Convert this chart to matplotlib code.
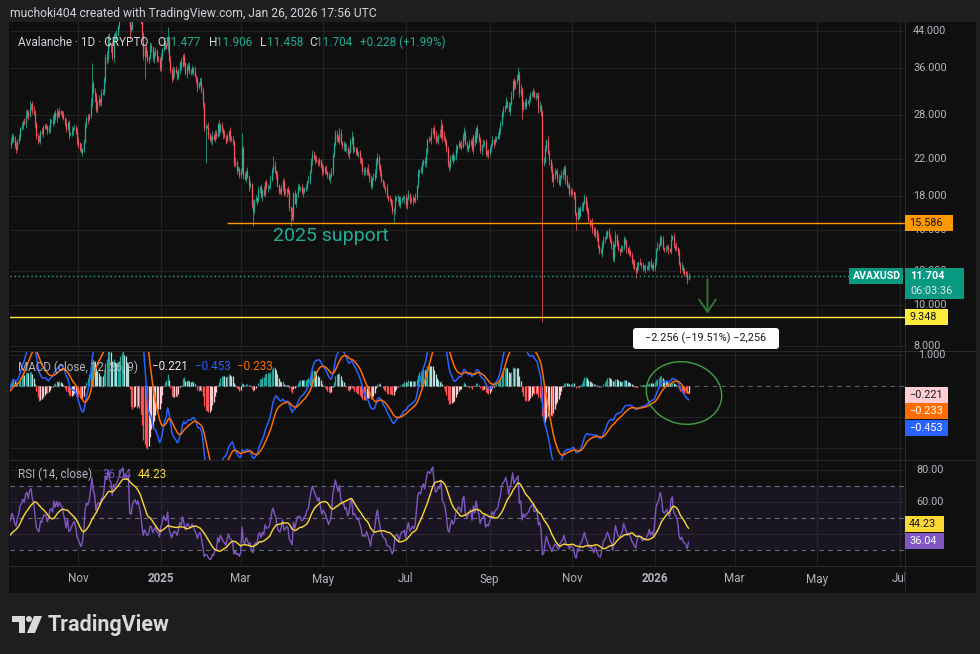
import numpy as np
import pandas as pd
import matplotlib
matplotlib.use("Agg")
import matplotlib.pyplot as plt
import matplotlib.dates as mdates
from matplotlib.patches import Rectangle, Ellipse, FancyBboxPatch, Polygon, Circle
from matplotlib.transforms import Bbox, IdentityTransform

plt.rcParams['font.family'] = ['Roboto', 'DejaVu Sans']

# daily closes AVAXUSD (Aug/early Sep 2024 only warms up the indicators)
closes = {
    "2024-08": [25.5, 23.5, 22.0, 21.0, 19.0, 20.5, 19.8, 22.0, 21.5, 21.5, 20.5, 21.0, 21.3, 20.6, 20.0, 20.5,
                21.0, 21.0, 21.5, 22.5, 24.0, 25.0, 27.5, 28.5, 27.5, 26.0, 24.0, 24.5, 24.0, 23.5, 23.5],
    "2024-09": [22.5, 22.8, 22.0, 22.5, 22.0, 21.0, 21.5, 22.0, 23.5, 24.0, 23.7, 24.2, 25.0, 24.5, 23.6,
                23.3, 24.3, 24.8, 26.0, 26.3, 27.0, 26.7, 28.0, 28.4, 27.8, 29.2, 29.6, 28.6, 28.2, 26.7],
    "2024-10": [25.0, 24.5, 24.3, 25.6, 25.4, 26.1, 26.4, 26.3, 25.6, 25.9, 27.0, 27.1, 26.8, 28.2, 27.6, 28.4,
                27.9, 28.5, 28.2, 28.1, 27.4, 26.8, 25.9, 26.8, 25.2, 25.3, 25.7, 26.0, 26.2, 25.6, 24.4],
    "2024-11": [23.9, 23.4, 22.9, 23.2, 24.2, 26.5, 27.5, 27.3, 28.0, 29.6, 33.0, 31.6, 31.0, 28.7, 30.0,
                30.4, 30.0, 31.4, 31.6, 33.5, 38.3, 37.8, 42.5, 41.0, 40.6, 38.2, 42.8, 42.2, 43.6, 45.2],
    "2024-12": [47.0, 49.8, 51.5, 53.5, 51.5, 54.0, 53.0, 54.5, 45.0, 44.5, 48.5, 50.3, 50.8, 49.5, 51.0, 49.5,
                47.2, 43.0, 38.5, 40.3, 38.8, 37.6, 38.2, 40.5, 40.2, 38.0, 38.8, 39.5, 37.8, 37.6, 36.0],
    "2025-01": [38.5, 39.8, 41.5, 40.5, 40.2, 42.5, 37.6, 35.7, 34.0, 35.2, 35.6, 35.3, 34.3, 35.5, 37.2, 36.5,
                38.5, 37.0, 35.0, 36.0, 36.4, 35.5, 35.2, 36.0, 35.5, 34.5, 33.8, 32.5, 33.2, 33.5, 32.0],
    "2025-02": [29.8, 26.0, 26.3, 26.2, 25.2, 24.5, 24.4, 25.0, 24.6, 25.3, 25.0, 26.6, 25.6, 26.5,
                25.9, 25.2, 24.9, 24.3, 25.0, 25.6, 24.8, 24.5, 24.2, 21.4, 21.7, 20.8, 20.9, 20.2],
    "2025-03": [20.6, 23.4, 20.2, 19.8, 20.6, 20.0, 19.0, 19.2, 17.2, 16.6, 17.6, 17.8, 17.6, 18.6, 18.9, 18.0,
                18.6, 18.2, 19.4, 18.9, 18.9, 19.0, 19.7, 20.8, 21.3, 20.6, 20.3, 19.1, 18.5, 18.4, 18.8],
    "2025-04": [19.6, 18.3, 18.4, 18.7, 18.4, 16.9, 16.6, 16.1, 18.3, 17.4, 18.2, 18.9, 18.8, 18.9, 18.4,
                18.5, 18.8, 18.9, 19.5, 19.6, 20.6, 21.8, 22.6, 22.3, 22.0, 21.8, 21.5, 21.9, 21.2, 20.6],
    "2025-05": [21.0, 20.8, 20.5, 20.2, 19.8, 20.1, 20.5, 22.6, 23.8, 25.2, 24.7, 24.3, 25.3, 24.1, 23.6, 23.9,
                23.2, 23.4, 22.6, 22.9, 24.3, 24.8, 23.1, 23.3, 23.0, 22.6, 22.8, 22.1, 21.6, 20.6, 20.7],
    "2025-06": [20.5, 20.9, 20.4, 19.9, 19.0, 19.8, 19.9, 20.4, 21.5, 22.2, 21.3, 20.4, 19.6, 19.2, 18.9,
                18.8, 18.0, 17.8, 17.7, 17.2, 16.6, 16.8, 17.8, 17.9, 17.9, 17.2, 17.6, 17.8, 17.8, 17.9],
    "2025-07": [17.2, 17.8, 18.2, 17.5, 17.6, 17.8, 17.6, 17.9, 19.0, 20.5, 20.7, 20.6, 21.4, 21.9, 21.6, 22.8,
                24.5, 24.6, 24.5, 25.4, 26.0, 25.0, 24.3, 24.5, 25.1, 25.0, 26.4, 24.8, 24.5, 24.2, 23.2],
    "2025-08": [21.6, 21.2, 22.0, 22.5, 22.0, 22.3, 23.3, 23.6, 24.0, 23.8, 23.5, 25.0, 25.5, 23.9, 23.4, 23.6,
                24.0, 24.3, 23.2, 25.0, 24.2, 26.0, 25.1, 24.4, 23.1, 23.7, 23.9, 24.2, 22.6, 22.9, 22.7],
    "2025-09": [23.2, 23.8, 24.4, 24.0, 24.5, 24.7, 24.9, 25.8, 26.6, 28.3, 28.8, 29.2, 30.0, 29.5, 28.6,
                29.7, 31.0, 33.6, 32.5, 33.5, 34.0, 34.8, 31.5, 32.0, 28.8, 30.0, 29.4, 29.9, 30.1, 30.5],
    "2025-10": [31.2, 31.5, 31.8, 30.8, 30.9, 31.2, 29.0, 29.4, 28.2, 21.5, 21.7, 23.4, 24.4, 22.8, 21.9, 20.9,
                19.6, 20.2, 20.6, 20.6, 19.8, 19.3, 20.0, 20.3, 20.5, 21.0, 19.7, 19.1, 19.1, 18.2, 18.5],
    "2025-11": [18.4, 18.0, 16.4, 15.9, 16.7, 16.2, 16.9, 17.0, 17.4, 17.9, 17.1, 16.6, 15.8, 15.5, 15.6,
                15.1, 14.6, 15.0, 14.4, 13.7, 13.4, 13.3, 13.8, 14.3, 14.4, 14.6, 14.9, 14.6, 14.1, 13.9],
    "2025-12": [12.9, 13.8, 14.6, 14.0, 13.5, 13.4, 13.5, 13.7, 14.3, 14.0, 13.6, 13.3, 13.4, 13.1, 12.7, 12.5,
                12.2, 12.0, 12.4, 12.6, 12.5, 12.4, 12.2, 12.3, 12.2, 12.3, 12.4, 12.6, 12.3, 12.4, 12.2],
    "2026-01": [12.7, 13.5, 13.7, 13.9, 14.4, 14.2, 13.6, 13.5, 13.6, 13.7, 13.5, 13.4, 14.3, 14.5, 13.8,
                13.7, 13.6, 13.3, 12.5, 12.2, 12.3, 12.0, 11.9, 11.8, 11.477, 11.704],
}

# wick length beyond the body, one digit per day, 1 unit = 0.8 %
upper_wick = {
    "2024-08": "2312132213 1213423311 2132421312 3",
    "2024-09": "2131221312 1321231213 1232141232",
    "2024-10": "1231321213 2141231312 2131213121 2",
    "2024-11": "2131221314 6232131323 2423132321",
    "2024-12": "2321312312 3213213121 2313212312 2",
    "2025-01": "2131221314 2312131213 2312131212 3",
    "2025-02": "2121312312 2131213121 31213121",
    "2025-03": "2812131213 1213121312 2131631212 2",
    "2025-04": "2131221312 1321231213 1232131212",
    "2025-05": "2131213123 3213121312 2412131213 2",
    "2025-06": "2131213341 2131213121 3121213121",
    "2025-07": "2131221312 1321231213 1232141242 2",
    "2025-08": "2131213121 3231213121 3121213121 2",
    "2025-09": "2131213121 2131213121 3124212312",
    "2025-10": "2121312312 3213213121 2313212312 2",
    "2025-11": "2131221312 1321231213 1232131212",
    "2025-12": "2131213121 2131213121 3121213121 2",
    "2026-01": "2131213121 2131213121 312121",
}
lower_wick = {
    "2024-08": "3231412312 2213132212 2131321232 2",
    "2024-09": "2213121231 3212131221 2132312213",
    "2024-10": "2312131221 3121231213 1221312312 3",
    "2024-11": "3213212312 2141232312 1322423212",
    "2024-12": "2131213282 1213214432 2121323121 2",
    "2025-01": "2312131221 3121231213 1221312312 2",
    "2025-02": "3221312312 2131231213 31212312",
    "2025-03": "2131213129 2131213121 3121213121 2",
    "2025-04": "2213129231 3212131221 2132312213",
    "2025-05": "2312131221 3121231213 1221312312 3",
    "2025-06": "2213121231 3212131221 2932312213",
    "2025-07": "2312131221 3121231213 1221312312 2",
    "2025-08": "3421312312 2131231213 3121231212 3",
    "2025-09": "2213121231 3212131221 2132612213",
    "2025-10": "2131213221 2121321432 2121323121 2",
    "2025-11": "2214121231 3212131221 2132312213",
    "2025-12": "2312131221 3121231213 1221312312 2",
    "2026-01": "2312131221 3121231213 122131",
}
high_fix = {"2024-11-11": 37.0, "2025-01-06": 45.0, "2025-03-02": 25.3, "2025-05-13": 26.0,
            "2025-06-10": 22.7, "2025-07-27": 27.3, "2025-09-22": 36.2, "2026-01-26": 11.906}
low_fix = {"2024-12-20": 34.0, "2025-02-03": 21.5, "2025-03-10": 15.3, "2025-04-07": 15.3,
           "2025-06-22": 15.6, "2025-08-02": 20.6, "2025-09-25": 27.3, "2025-10-10": 9.1,
           "2025-11-04": 15.0, "2025-12-18": 11.6, "2026-01-26": 11.458}

price_ticks = [8, 10, 12, 15, 18, 22, 28, 36, 44]
time_ticks = ["2024-11-01", "2025-01-01", "2025-03-01", "2025-05-01", "2025-07-01", "2025-09-01",
              "2025-11-01", "2026-01-01", "2026-03-01", "2026-05-01", "2026-07-01"]
time_labels = ["Nov", "2025", "Mar", "May", "Jul", "Sep", "Nov", "2026", "Mar", "May", "Jul"]

support_level = 15.586
target_level = 9.348
last_price = 11.704
change_txt = "+0.228 (+1.99%)"
macd_last = (-0.221, -0.453, -0.233)   # hist, macd, signal
rsi_last = (36.04, 44.23)              # rsi, rsi ma

# ---------------------------------------------------------------- data frame
rows = []
for month, vals in closes.items():
    u = upper_wick[month].replace(" ", "")
    l = lower_wick[month].replace(" ", "")
    assert len(u) == len(vals) == len(l), month
    for i, c in enumerate(vals):
        rows.append((pd.Timestamp(month + "-01") + pd.Timedelta(days=i), c, int(u[i]), int(l[i])))
df = pd.DataFrame(rows, columns=["date", "close", "uw", "lw"]).set_index("date")
df["open"] = df["close"].shift(1).fillna(df["close"].iloc[0])
body_top = df[["open", "close"]].max(axis=1)
body_bot = df[["open", "close"]].min(axis=1)
df["high"] = body_top * (1 + 0.008 * df["uw"])
df["low"] = body_bot * (1 - 0.008 * df["lw"])
for d, v in high_fix.items():
    df.loc[pd.Timestamp(d), "high"] = v
for d, v in low_fix.items():
    df.loc[pd.Timestamp(d), "low"] = v

# indicators
ema12 = df["close"].ewm(span=12, adjust=False).mean()
ema26 = df["close"].ewm(span=26, adjust=False).mean()
macd = ema12 - ema26
signal = macd.ewm(span=9, adjust=False).mean()
hist = macd - signal
delta = df["close"].diff()
gain = delta.clip(lower=0).ewm(alpha=1/14, adjust=False).mean()
loss = (-delta.clip(upper=0)).ewm(alpha=1/14, adjust=False).mean()
rsi = 100 - 100 / (1 + gain / loss)
rsi_ma = rsi.rolling(14).mean()

# ---------------------------------------------------------------- figure
W, H = 980, 654
fig = plt.figure(figsize=(W/100, H/100), dpi=100)
fig.patch.set_facecolor('#1e1e1e')
BG = '#0f0f0f'
GRID = '#222222'
SEP = '#2b2b2b'
TXT = '#b2b5be'

def px_axes(x0, y0, x1, y1):
    return fig.add_axes([x0/W, 1-y1/H, (x1-x0)/W, (y1-y0)/H])

def px_rect(x0, y0, x1, y1, color, z=5):
    r = Rectangle((x0, H-y1), x1-x0, y1-y0, transform=IdentityTransform(), fc=color, ec='none', zorder=z)
    fig.patches.append(r)

def px_text(x, y, s, **kw):
    kw.setdefault('zorder', 6)
    return fig.text(x/W, 1-y/H, s, **kw)

def py(ax, val):
    return H - ax.transData.transform((0, val))[1]

px_rect(9, 22, 976, 593, BG, z=-2)

base = mdates.date2num(pd.Timestamp("2025-01-01"))
xlim = (base - 111.5, base + 550)
x = mdates.date2num(df.index)

ax = px_axes(10, 22, 905, 351)
am = px_axes(10, 351, 905, 460)
ar = px_axes(10, 460, 905, 566)
for a in (ax, am, ar):
    a.set_facecolor(BG)
    a.set_xlim(*xlim)
    for s in a.spines.values():
        s.set_visible(False)
    a.set_xticks([])
    a.set_yticks([])
    for t in time_ticks:
        a.axvline(mdates.date2num(pd.Timestamp(t)), color=GRID, lw=0.8, zorder=0)

# price pane
ax.set_yscale('log')
ax.set_ylim(7.795, 46.2)
ax.minorticks_off()
ax.set_yticks([])
for p in price_ticks:
    ax.axhline(p, color=GRID, lw=0.8, zorder=0)
up = (df["close"] >= df["open"]).values
col = np.where(up, '#22ab94', '#f7525f')
ax.vlines(x, df["low"], df["high"], colors=col, lw=0.55, zorder=2)
ax.vlines(x, df["open"], df["close"], colors=col, lw=0.9, zorder=2)

ax.axhline(target_level, color='#ffeb3b', lw=1.0, zorder=3)
ax.hlines(support_level, mdates.date2num(pd.Timestamp("2025-02-19")), xlim[1], color='#ff9800', lw=1.0, zorder=3)
ax.axhline(last_price, color='#22ab94', lw=1.0, ls=(0, (1, 2)), zorder=3)
ax.text(mdates.date2num(pd.Timestamp("2025-03-25")), 14.5, "2025 support", color='#22ab94',
        fontsize=14, ha='left', va='center', zorder=4)
arr_x = mdates.date2num(pd.Timestamp("2026-02-09"))
ax.annotate('', xy=(arr_x, 9.40), xytext=(arr_x, 11.66),
            arrowprops=dict(arrowstyle='->,head_length=0.9,head_width=0.6', color='#2e7d32', lw=1.3),
            zorder=4)

# MACD pane
am.set_ylim(-2.387, 1.129)
for v in (1, -1, -2):
    am.axhline(v, color=GRID, lw=0.8, zorder=0)
am.axhline(0, color='#5d606b', lw=0.8, ls=(0, (4, 4)), zorder=1)
h = hist.values
prev = np.r_[h[0], h[:-1]]
hcol = np.where(h >= 0, np.where(h >= prev, '#26a69a', '#b2dfdb'),
                np.where(h < prev, '#ff5252', '#ffcdd2'))
am.vlines(x, 0, h, colors=hcol, lw=0.9, zorder=2)
am.plot(x, macd.values, color='#2962ff', lw=1.1, zorder=3)
am.plot(x, signal.values, color='#ff6d00', lw=1.1, zorder=3)

# RSI pane
ar.set_ylim(20, 86.25)
for v in (80, 60, 40):
    ar.axhline(v, color=GRID, lw=0.8, zorder=0)
ar.axhspan(30, 70, color='#7e57c2', alpha=0.1, lw=0, zorder=0)
for v in (70, 50, 30):
    ar.axhline(v, color='#6a6d78', lw=0.8, ls=(0, (4, 4)), zorder=1)
ar.plot(x, rsi.values, color='#7e57c2', lw=1.0, zorder=3)
ar.plot(x, rsi_ma.values, color='#fdd835', lw=1.0, zorder=3)

# separators
for yy in (351, 460, 566):
    px_rect(10, yy - 0.5, 976, yy + 1, SEP, z=4)
px_rect(904.5, 22, 905.5, 593, SEP, z=4)

# ---------------------------------------------------------------- texts
px_text(10, 14, "muchoki404 created with TradingView.com, Jan 26, 2026 17:56 UTC",
        color='#d1d4dc', fontsize=8.7, va='center')
leg_y = 42
px_text(18, leg_y, "Avalanche · 1D · CRYPTO", color='#d1d4dc', fontsize=8.5, va='center')
o, hh, ll, cc = [f"{df[k].iloc[-1]:.3f}" for k in ("open", "high", "low", "close")]
segs = [(157, "O", '#d1d4dc'), (164, o, '#22ab94'), (209, "H", '#d1d4dc'), (216, hh, '#22ab94'),
        (260, "L", '#d1d4dc'), (267, ll, '#22ab94'), (309, "C", '#d1d4dc'), (316, cc, '#22ab94'),
        (360, change_txt, '#22ab94')]
for xx, s, c in segs:
    px_text(xx, leg_y, s, color=c, fontsize=8.5, va='center')

px_text(18, 367, "MACD (close, 12, 26, 9)", color=TXT, fontsize=8.4, va='center')
px_text(152, 367, f"{macd_last[0]:.3f}".replace('-', '−'), color='#f0e6e8', fontsize=8.4, va='center')
px_text(195, 367, f"{macd_last[1]:.3f}".replace('-', '−'), color='#2962ff', fontsize=8.4, va='center')
px_text(237, 367, f"{macd_last[2]:.3f}".replace('-', '−'), color='#ff6d00', fontsize=8.4, va='center')

px_text(18, 474, "RSI (14, close)", color=TXT, fontsize=8.4, va='center')
px_text(102, 474, f"{rsi_last[0]:.2f}", color='#7e57c2', fontsize=8.4, va='center')
px_text(138, 474, f"{rsi_last[1]:.2f}", color='#fdd835', fontsize=8.4, va='center')

# price axis (labels under the tags are only partly visible)
y_sup = py(ax, support_level)
y_last = py(ax, last_price)
for p in price_ticks:
    t = px_text(913, py(ax, p), f"{p:.3f}", color=TXT, fontsize=7.8, va='center')
    if p == 15:
        t.set_clip_box(Bbox.from_extents(0, 0, W, H - (y_sup + 8)))
        t.set_clip_on(True)
    if p == 12:
        t.set_clip_box(Bbox.from_extents(0, H - (y_last - 8), W, H))
        t.set_clip_on(True)
px_text(918, py(am, 1.0), "1.000", color=TXT, fontsize=7.8, va='center')
for v in (80, 60):
    px_text(916, py(ar, v), f"{v:.2f}", color=TXT, fontsize=7.8, va='center')

def tag(y, s, fc, tc, x0=905, x1=948, hgt=16):
    px_rect(x0, y - hgt/2, x1, y + hgt/2, fc, z=7)
    px_text(x0 + 4, y, s, color=tc, fontsize=7.8, va='center', zorder=8)

tag(y_sup, f"{support_level:.3f}", '#ff9800', '#131722', x1=953)
tag(py(ax, target_level), f"{target_level:.3f}", '#ffeb3b', '#131722')
px_rect(905, y_last - 8, 964, y_last + 23, '#089981', z=7)
px_text(910, y_last, f"{last_price:.3f}", color='white', fontsize=7.8, va='center', zorder=8, fontweight='bold')
px_text(910, y_last + 15, "06:03:36", color='#e6e6e6', fontsize=7.8, va='center', zorder=8)
px_rect(849, y_last - 8, 903, y_last + 8, '#089981', z=7)
px_text(853, y_last, "AVAXUSD", color='white', fontsize=7.6, va='center', zorder=8, fontweight='bold')

tag(395, f"{macd_last[0]:.3f}".replace('-', '−'), '#ffcdd2', '#131722')
tag(411, f"{macd_last[2]:.3f}".replace('-', '−'), '#ff6d00', 'white')
tag(428, f"{macd_last[1]:.3f}".replace('-', '−'), '#2962ff', 'white')
tag(524, f"{rsi_last[1]:.2f}", '#fdd835', '#131722', x1=944)
tag(541, f"{rsi_last[0]:.2f}", '#7e57c2', 'white', x1=944)

# time axis labels
clip = Bbox.from_extents(0, 0, 905, H)
for t, lab in zip(time_ticks, time_labels):
    xx = ar.transData.transform((mdates.date2num(pd.Timestamp(t)), 50))[0]
    tt = px_text(xx, 579, lab, color=TXT, fontsize=8.4, ha='center', va='center',
                 fontweight='bold' if lab.isdigit() else 'normal')
    tt.set_clip_box(clip)
    tt.set_clip_on(True)

# measure box, drawn circle
box = FancyBboxPatch((633, H - 349), 146, 21, boxstyle='round,pad=0,rounding_size=3',
                     transform=IdentityTransform(), fc='white', ec='none', zorder=7)
fig.patches.append(box)
px_text(706, 338.5, "−2.256 (−19.51%) −2,256", color='#131722', fontsize=7.8, ha='center', va='center', zorder=8)
ell = Ellipse((684, H - 393), 76, 62, angle=-12, transform=IdentityTransform(), fc='none',
              ec='#43a047', lw=1.0, zorder=6)
fig.patches.append(ell)

# TradingView mark
fig.patches.append(Polygon([(12, H-616), (25, H-616), (25, H-633), (19, H-633), (19, H-622), (12, H-622)],
                           closed=True, transform=IdentityTransform(), fc='#d9d9d9', ec='none', zorder=5))
fig.patches.append(Circle((29, H-619), 3, transform=IdentityTransform(), fc='#d9d9d9', ec='none', zorder=5))
fig.patches.append(Polygon([(34, H-616), (42, H-616), (35, H-633), (27, H-633)],
                           closed=True, transform=IdentityTransform(), fc='#d9d9d9', ec='none', zorder=5))
px_text(48, 625, "TradingView", color='#d9d9d9', fontsize=15.5, fontweight='bold', va='center')

fig.savefig("out.png", dpi=100, facecolor=fig.get_facecolor())
